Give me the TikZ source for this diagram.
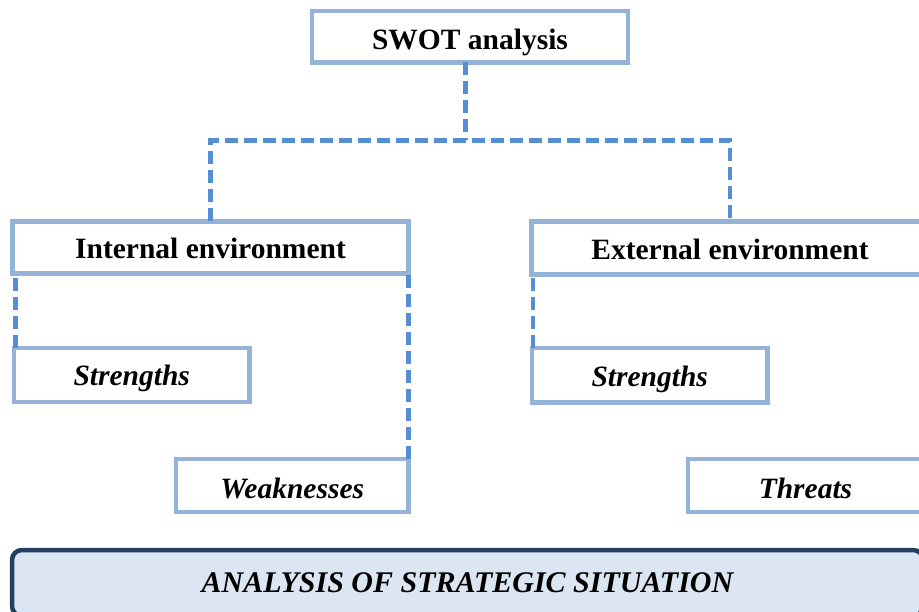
\documentclass[tikz,border=0pt]{standalone}
\usepackage{fontspec}
\setmainfont{Liberation Serif}
\definecolor{boxline}{RGB}{149,179,215}
\definecolor{dashline}{RGB}{85,142,213}
\definecolor{navy}{RGB}{36,63,96}
\definecolor{paleblue}{RGB}{220,230,242}
\tikzset{
  boxnode/.style={draw=boxline, line width=4.5pt, fill=white, inner sep=0pt, outer sep=0pt,
    text depth=0pt, font=\fontsize{29.5}{31}\selectfont\bfseries},
  itbox/.style={boxnode, font=\fontsize{29.5}{31}\selectfont\bfseries\itshape},
  conn/.style={draw=dashline, line width=4.3pt, dash pattern=on 13pt off 6pt},
  mainbox/.style={draw=navy, line width=4.5pt, fill=paleblue, rounded corners=10pt,
    inner sep=0pt, text depth=0pt, font=\fontsize{30}{31}\selectfont\bfseries\itshape}
}
\begin{document}
\begin{tikzpicture}[x=1pt,y=-1pt]
\useasboundingbox (0,0) rectangle (919,612);
\fill[white] (0,0) rectangle (919,612);
\node[boxnode, minimum width=316pt, minimum height=51.5pt, text height=26.5pt] (swot) at (470,36.75) {SWOT analysis};
\node[boxnode, minimum width=396pt, minimum height=52pt, text height=23pt] (intl) at (210.5,247.5) {Internal environment};
\node[boxnode, minimum width=397pt, minimum height=53pt, text height=24pt] (extl) at (730,248) {External environment};
\node[itbox, minimum width=235.5pt, minimum height=54pt, text height=22pt] (sL) at (131.75,375) {Strengths};
\node[itbox, minimum width=235.5pt, minimum height=54.5pt, text height=23pt] (sR) at (649.75,375.25) {Strengths};
\node[itbox, minimum width=232.5pt, minimum height=53pt, text height=25pt] (wk) at (292.25,485.5) {Weaknesses};
\node[itbox, minimum width=235pt, minimum height=53pt, text height=25pt] (th) at (805.5,485.5) {Threats};
\node[mainbox, minimum width=911pt, minimum height=66pt, text height=19pt] (main) at (467.5,583) {ANALYSIS OF STRATEGIC SITUATION};
\coordinate (hub) at (465.5,140.5);
\path[conn] (465.5,0 |- swot.south) -- (hub);
\path[conn] (intl.north) -- (intl.north |- hub) -- (extl.north |- hub) -- (extl.north);
\path[conn] ([xshift=1.5pt]sL.north west) -- ([xshift=1.5pt]sL.north west |- intl.south);
\path[conn] (wk.north east) -- (wk.north east |- intl.south);
\path[conn] ([xshift=1pt]sR.north west) -- ([xshift=1pt]sR.north west |- extl.south);
\end{tikzpicture}
\end{document}
